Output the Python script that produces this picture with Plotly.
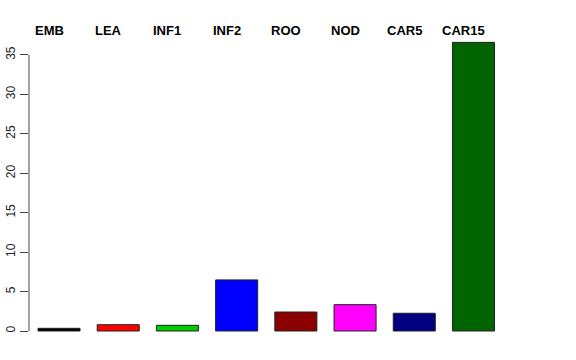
import plotly.graph_objects as go

categories = ["EMB", "LEA", "INF1", "INF2", "ROO", "NOD", "CAR5", "CAR15"]
values = [0.34, 0.80, 0.72, 6.48, 2.41, 3.34, 2.25, 36.6]
colors = ["#000000", "#FF0000", "#00CD00", "#0000FF", "#8B0000", "#FF00FF", "#000080", "#006400"]
ytick_vals = [0, 5, 10, 15, 20, 25, 30, 35]

xs = list(range(len(categories)))

fig = go.Figure()
fig.add_trace(go.Bar(
    x=xs, y=values,
    marker=dict(color=colors, line=dict(color="#222222", width=1)),
    width=0.71,
    showlegend=False,
    hoverinfo="skip",
))

for i, c in enumerate(categories):
    fig.add_annotation(
        x=i, y=1.0, xref="x", yref="paper",
        text="<b>%s</b>" % c, showarrow=False,
        xanchor="center", yanchor="middle",
        yshift=10,
        xshift=-10,
        font=dict(family="Liberation Sans, Arial, Helvetica", size=13, color="black"),
    )

# R-style axis line spanning the ticks only
fig.add_shape(type="line", xref="paper", yref="y", x0=0, x1=0,
              y0=ytick_vals[0], y1=ytick_vals[-1],
              line=dict(color="#444444", width=1))

fig.update_layout(
    width=576, height=360,
    margin=dict(l=29, r=67, t=40, b=20, autoexpand=False),
    paper_bgcolor="white", plot_bgcolor="white",
    xaxis=dict(range=[-0.507, 7.6], showticklabels=False, showgrid=False,
               zeroline=False, showline=False, ticks="", automargin=False),
    yaxis=dict(range=[-1.141, 36.9], tickvals=ytick_vals, ticktext=[str(v) for v in ytick_vals],
               showgrid=False, zeroline=False, showline=False, automargin=False,
               ticks="outside", ticklen=8, tickcolor="#444444", tickwidth=1,
               tickangle=-90,
               tickfont=dict(family="Liberation Sans, Arial, Helvetica", size=12, color="#222222")),
    font=dict(family="Liberation Sans, Arial, Helvetica"),
)

fig.write_html("out.html")
